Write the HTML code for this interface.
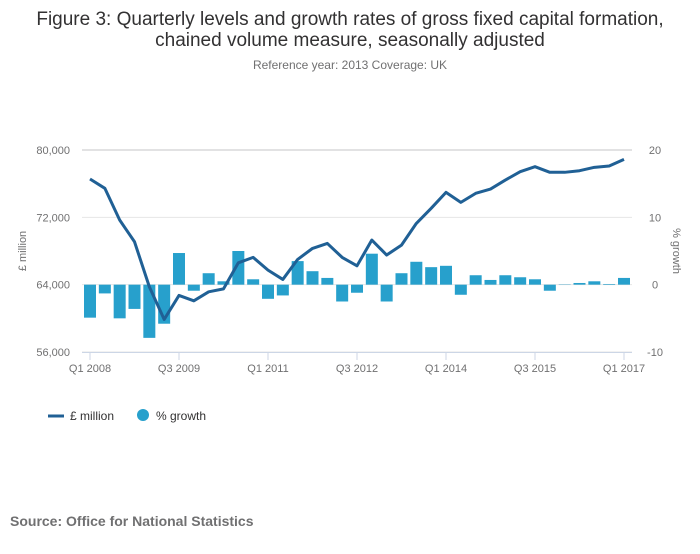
<!DOCTYPE html>
<html><head><meta charset="utf-8"><style>
body{margin:0;background:#fff;font-family:"Liberation Sans",sans-serif;}
svg text{font-family:"Liberation Sans",sans-serif;}
</style></head><body>
<svg width="700" height="549" id="c">
<text x="350" y="25" text-anchor="middle" font-size="19" fill="#323132">Figure 3: Quarterly levels and growth rates of gross fixed capital formation,</text>
<text x="350" y="46" text-anchor="middle" font-size="19" fill="#323132">chained volume measure, seasonally adjusted</text>
<text x="350" y="69" text-anchor="middle" font-size="12" fill="#707071">Reference year: 2013 Coverage: UK</text>
<g id="grid"></g><g id="bars"></g><g id="line"></g><g id="axes"></g>
<text transform="translate(26,251) rotate(-90)" text-anchor="middle" font-size="11" fill="#707071">£ million</text>
<text transform="translate(673,251) rotate(90)" text-anchor="middle" font-size="11" fill="#707071">% growth</text>
<g><line x1="48" y1="416" x2="64" y2="416" stroke="#206095" stroke-width="3"/><text x="70" y="420" font-size="12" fill="#323132">£ million</text></g>
<g><circle cx="143" cy="415" r="6" fill="#27a0cc"/><text x="156" y="420" font-size="12" fill="#323132">% growth</text></g>
<text x="10" y="526" font-size="14" font-weight="bold" fill="#707071">Source: Office for National Statistics</text>
</svg>
<script>
const levels=[76550,75450,71680,69100,63750,59870,62720,62080,63150,63500,66600,67240,65730,64620,67000,68310,68900,67240,66240,69300,67520,68700,71280,73070,74970,73780,74850,75360,76430,77420,78020,77350,77350,77540,77940,78100,78890];
const growth=[-4.9,-1.3,-5.0,-3.6,-7.9,-5.8,4.7,-0.9,1.7,0.5,5.0,0.8,-2.1,-1.6,3.5,2.0,1.0,-2.5,-1.2,4.6,-2.5,1.7,3.4,2.6,2.8,-1.5,1.4,0.7,1.4,1.1,0.8,-0.9,0.05,0.25,0.5,0.1,1.0];
const leftTicks=[56000,64000,72000,80000];
const rightTicks=[-10,0,10,20];
const xTickLabels=["Q1 2008","Q3 2009","Q1 2011","Q3 2012","Q1 2014","Q3 2015","Q1 2017"];
const xTickIdx=[0,6,12,18,24,30,36];
const NS="http://www.w3.org/2000/svg";
const x=i=>90+i*(534/36);
const yL=v=>150+(80000-v)*(202/24000);
const yR=v=>150+(20-v)*(202/30);
function mk(t,a,p){const e=document.createElementNS(NS,t);for(const k in a)e.setAttribute(k,a[k]);document.getElementById(p).appendChild(e);return e;}
leftTicks.forEach((v,i)=>{
  const g=mk('line',{x1:82,x2:632,y1:yL(v),y2:yL(v),stroke:i==3?'#e2e2e3':'#e6e6e6','stroke-width':i==3?2:1},'grid');
  
  
  const t=mk('text',{x:70,y:yL(v)+4,'text-anchor':'end','font-size':11,fill:'#707071'},'axes');t.textContent=v.toLocaleString('en-GB');
  
  
});
rightTicks.forEach(v=>{
  const t=mk('text',{x:655,y:yR(v)+4,'text-anchor':'middle','font-size':11,fill:'#707071'},'axes');t.textContent=v;
  
  
});
const ax=mk('line',{x1:82,x2:632,y1:352.5,y2:352.5,stroke:'#ccd6e6'},'axes');


xTickIdx.forEach((qi,i)=>{
  const tk=mk('line',{x1:x(qi),x2:x(qi),y1:352,y2:360,stroke:'#ccd6e6'},'axes');
  
  
  const t=mk('text',{x:x(qi),y:372,'text-anchor':'middle','font-size':11,fill:'#707071'},'axes');t.textContent=xTickLabels[i];
  
  
});
growth.forEach((v,i)=>{
  const y0=yR(0),y1=yR(v);
  const r=mk('rect',{x:x(i)-6,y:Math.min(y0,y1),width:12,height:Math.abs(y1-y0),fill:'#27a0cc'},'bars');
  
  
});
const p=mk('polyline',{points:levels.map((v,i)=>x(i)+','+yL(v)).join(' '),fill:'none',stroke:'#206095','stroke-width':3,'stroke-linejoin':'round'},'line');


</script>
</body></html>
